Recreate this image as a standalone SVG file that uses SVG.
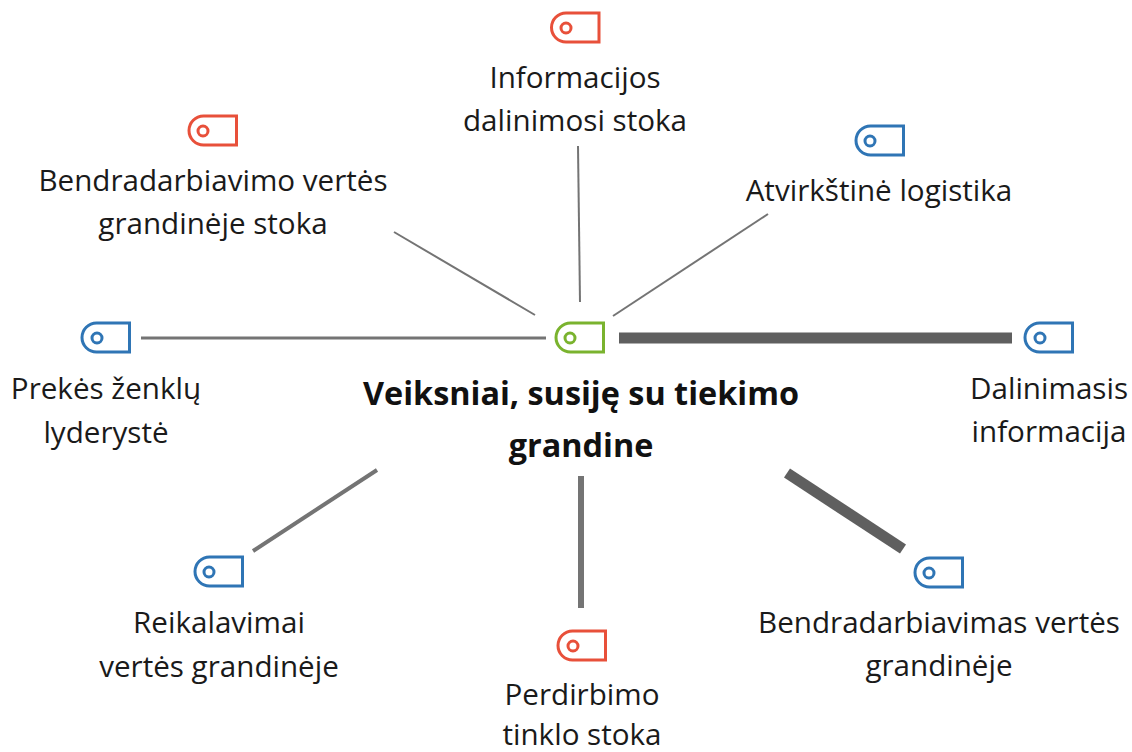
<svg xmlns="http://www.w3.org/2000/svg" width="1132" height="752" viewBox="0 0 1132 752">
<defs>
<style>
text{font-family:"Open Sans","Noto Sans","Liberation Sans",sans-serif;font-size:29.6px;fill:#1a1a1a;text-anchor:middle}
.b{font-weight:700;font-size:32.4px;fill:#111}
.tag{fill:#fff;stroke-width:3}
.dot{fill:none;stroke-width:3}
.r{stroke:#e8503a}.u{stroke:#2f75b5}.g{stroke:#7ab32e}
line{stroke:#747474;stroke-linecap:butt}
line.k{stroke:#5f5f5f}
</style>
<path id="t" d="M14 0H47V29H14A14 14 0 0 1 14 0Z"/>
</defs>
<rect width="1132" height="752" fill="#fff"/>
<g id="connectors">
<line x1="578" y1="146" x2="580" y2="302" stroke-width="2"/>
<line x1="394" y1="232" x2="535" y2="315" stroke-width="2"/>
<line x1="768" y1="214" x2="613" y2="316" stroke-width="2"/>
<line x1="141" y1="338" x2="546" y2="338" stroke-width="3"/>
<line class="k" x1="619" y1="338" x2="1012" y2="338" stroke-width="11"/>
<line x1="377" y1="470" x2="253" y2="551" stroke-width="4"/>
<line x1="581" y1="476" x2="581" y2="608" stroke-width="6"/>
<line class="k" x1="787" y1="473" x2="903" y2="549" stroke-width="11"/>
</g>
<g id="n1"><use href="#t" x="552" y="13" class="tag r"/><circle cx="566" cy="28" r="5" class="dot r"/><text x="575" y="88">Informacijos</text><text x="575" y="131">dalinimosi stoka</text></g>
<g id="n2"><use href="#t" x="189.500" y="116" class="tag r"/><circle cx="203" cy="131" r="5" class="dot r"/><text x="213" y="191">Bendradarbiavimo vertės</text><text x="213" y="234">grandinėje stoka</text></g>
<g id="n3"><use href="#t" x="856.500" y="126" class="tag u"/><circle cx="870" cy="141" r="5" class="dot u"/><text x="879" y="201">Atvirkštinė logistika</text></g>
<g id="n4"><use href="#t" x="82.500" y="323" class="tag u"/><circle cx="97" cy="338" r="5" class="dot u"/><text x="106" y="399">Prekės ženklų</text><text x="106" y="443">lyderystė</text></g>
<g id="n5"><use href="#t" x="556.500" y="323" class="tag g"/><circle cx="570" cy="338" r="5" class="dot g"/><text class="b" x="581" y="405">Veiksniai, susiję su tiekimo</text><text class="b" x="581" y="457">grandine</text></g>
<g id="n6"><use href="#t" x="1025.500" y="323" class="tag u"/><circle cx="1040" cy="338" r="5" class="dot u"/><text x="1049" y="399">Dalinimasis</text><text x="1049" y="442">informacija</text></g>
<g id="n7"><use href="#t" x="195.500" y="557" class="tag u"/><circle cx="209" cy="572" r="5" class="dot u"/><text x="219" y="633">Reikalavimai</text><text x="219" y="677">vertės grandinėje</text></g>
<g id="n8"><use href="#t" x="558.500" y="631" class="tag r"/><circle cx="573" cy="646" r="5" class="dot r"/><text x="582" y="705">Perdirbimo</text><text x="582" y="745">tinklo stoka</text></g>
<g id="n9"><use href="#t" x="915.500" y="558" class="tag u"/><circle cx="929" cy="573" r="5" class="dot u"/><text x="939" y="633">Bendradarbiavimas vertės</text><text x="939" y="676">grandinėje</text></g>
</svg>
